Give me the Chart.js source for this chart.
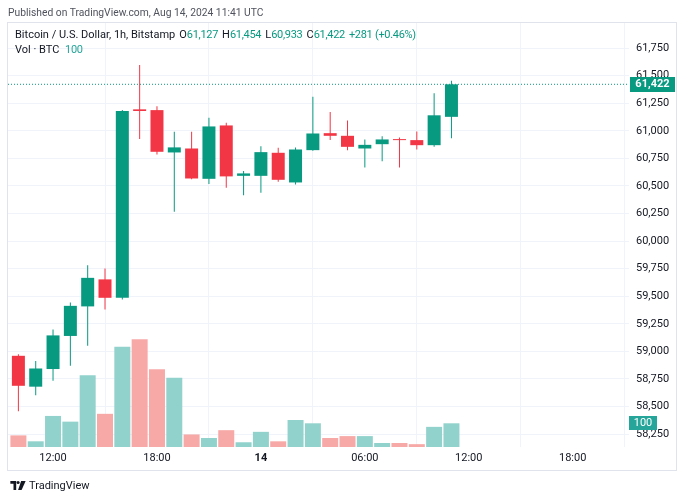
<!DOCTYPE html>
<html><head><meta charset="utf-8">
<script src="https://cdn.jsdelivr.net/npm/chart.js@4.4.1/dist/chart.umd.min.js"></script>
<style>
html,body{margin:0;padding:0;background:#fff;width:683px;height:500px;overflow:hidden;font-family:Roboto,'Liberation Sans',sans-serif;}
#wrap{position:relative;width:683px;height:500px;}
#c{position:absolute;left:0;top:0;}
#pub{position:absolute;left:8px;top:6px;font-size:10.3px;color:#50535e;white-space:nowrap;}
#frame{position:absolute;left:7px;top:22px;width:668px;height:447px;border:1px solid #e0e3eb;pointer-events:none;}
.leg{position:absolute;left:15px;font-size:11px;color:#131722;white-space:nowrap;}
#leg1{top:28px;}
#leg2{top:43px;}
.g{color:#089981;letter-spacing:-0.3px;}
.k{margin-left:4px;}
#logo{position:absolute;left:10px;top:479px;font-size:11px;color:#131722;white-space:nowrap;display:flex;align-items:center;}
#logo svg{margin-right:3px;}
</style>
</head><body>
<div id="wrap">
<canvas id="c" width="683" height="500"></canvas>
<div id="pub">Published on TradingView.com, Aug 14, 2024 11:41 UTC</div>
<div id="frame"></div>
<div class="leg" id="leg1"></div>
<div class="leg" id="leg2"></div>
<div id="logo"><svg width="16" height="9" viewBox="0 0 17 10"><path d="M0 0H6.5V10H3.5V3H0Z" fill="#131722"/><circle cx="8.6" cy="1.7" r="1.7" fill="#131722"/><path d="M12 0H17L12.5 10H8.6Z" fill="#131722"/></svg><span>TradingView</span></div>
</div>
<script>
const times   = ['10:00','11:00','12:00','13:00','14:00','15:00','16:00','17:00','18:00','19:00','20:00','21:00','22:00','23:00','00:00','01:00','02:00','03:00','04:00','05:00','06:00','07:00','08:00','09:00','10:00','11:00'];
const opens   = [58960,58680,58840,59140,59408,59653,59486,61195,61188,60804,60840,60565,61049,60592,60592,60801,60532,60825,60979,60955,60840,60879,60925,60916,60870,61127];
const highs   = [58973,58914,59199,59444,59782,59752,61188,61596,61224,60991,60991,61118,61073,60635,60861,60846,60850,61309,61170,61094,60922,60952,60940,60995,61342,61454];
const lows    = [58458,58603,58733,58869,59051,59380,59471,60925,60786,60266,60560,60517,60483,60417,60438,60538,60514,60820,60916,60825,60668,60725,60668,60831,60855,60933];
const closes  = [58688,58845,59145,59413,59667,59486,61179,61180,60810,60850,60568,61040,60587,60614,60807,60556,60831,60976,60955,60855,60873,60922,60916,60870,61141,61422];
const volumes = [49,24,131,107,303,140,423,455,328,292,53,38,71,20,64,24,114,100,38,46,46,17,17,12,85,100];
const xTickHours  = [2,8,14,20,26,32];
const xTickLabels = ['12:00','18:00','14','06:00','12:00','18:00'];
const yTicks = [58250,58500,58750,59000,59250,59500,59750,60000,60250,60500,60750,61000,61250,61500,61750];

const UP='#089981', DOWN='#f23645', UPV='#92d2cc', DOWNV='#f7a9a7';
const fmt = v => Math.round(v).toLocaleString('en-US');
const last = closes.length-1;
const isUp = closes.map((c,i)=>c>=opens[i]);
const idx = closes.map((c,i)=>i);

// legend
const chg = closes[last]-closes[last-1];
const pct = chg/closes[last-1]*100;
document.getElementById('leg1').innerHTML =
  'Bitcoin / U.S. Dollar, 1h, Bitstamp' +
  '<span class="k">O</span><span class="g">'+fmt(opens[last])+'</span>' +
  '<span class="k">H</span><span class="g">'+fmt(highs[last])+'</span>' +
  '<span class="k">L</span><span class="g">'+fmt(lows[last])+'</span>' +
  '<span class="k">C</span><span class="g">'+fmt(closes[last])+'</span>' +
  '<span class="k g">'+(chg>=0?'+':'')+fmt(chg)+' ('+(chg>=0?'+':'')+pct.toFixed(2)+'%)</span>';
document.getElementById('leg2').innerHTML = 'Vol · BTC <span class="g" style="color:#26a69a;margin-left:3px">'+volumes[last]+'</span>';

const xMin=-0.6, xMax=35.25, yMin=58133, yMax=61978;

const labelsPlugin = {
  id:'lastLabels',
  afterDraw(chart){
    const ctx=chart.ctx, ca=chart.chartArea;
    const py=chart.scales.y.getPixelForValue(closes[last]);
    ctx.save();
    ctx.fillStyle=UP;
    ctx.fillRect(ca.right+1, Math.round(py)-7, 45, 15);
    ctx.fillStyle='#fff';
    ctx.font='bold 11px Roboto, sans-serif';
    ctx.textAlign='center'; ctx.textBaseline='middle';
    ctx.fillText(fmt(closes[last]), ca.right+23.5, Math.round(py)+0.5);
    const vy=chart.scales.yv.getPixelForValue(volumes[last]);
    ctx.fillStyle='#26a69a';
    ctx.fillRect(ca.right, Math.round(vy)-7, 28, 14);
    ctx.fillStyle='#fff';
    ctx.font='11px Roboto, sans-serif';
    ctx.fillText(String(volumes[last]), ca.right+14, Math.round(vy));
    ctx.restore();
  }
};

new Chart(document.getElementById('c'), {
  data:{
    datasets:[
      {type:'bar', label:'body', data: idx.map(i=>({x:i,y:[opens[i],closes[i]]})),
       backgroundColor: idx.map(i=>isUp[i]?UP:DOWN), barThickness:13, grouped:false,
       minBarLength:1, inflateAmount:0, borderWidth:0, yAxisID:'y', order:1},
      {type:'bar', label:'wick', data: idx.map(i=>({x:i,y:[lows[i],highs[i]]})),
       backgroundColor: idx.map(i=>isUp[i]?UP:DOWN), barThickness:1, grouped:false,
       inflateAmount:0, borderWidth:0, yAxisID:'y', order:2},
      {type:'line', label:'last', data:[{x:xMin,y:closes[last]},{x:xMax,y:closes[last]}],
       borderColor:UP, borderWidth:1, borderDash:[1,2], pointRadius:0, yAxisID:'y', order:3},
      {type:'bar', label:'vol', data: idx.map(i=>({x:i,y:volumes[i]})),
       backgroundColor: idx.map(i=>isUp[i]?UPV:DOWNV), barThickness:16, grouped:false,
       inflateAmount:0, borderWidth:0, yAxisID:'yv', order:4}
    ]
  },
  options:{
    responsive:false, animation:false,
    layout:{padding:{left:8, top:23, right:7, bottom:30}},
    plugins:{legend:{display:false}, tooltip:{enabled:false}},
    scales:{
      x:{type:'linear', min:xMin, max:xMax, offset:false,
         afterBuildTicks:s=>{ s.ticks = xTickHours.map(v=>({value:v})); },
         afterFit:s=>{ s.height=23; },
         grid:{color:'#f0f3fa', drawTicks:false},
         border:{display:false},
         ticks:{autoSkip:false, maxRotation:0, padding:5, color:'#131722',
                font:c=>({family:'Roboto', size:11, weight:(c.tick && c.tick.value===14)?'bold':'normal'}),
                callback:v=>xTickLabels[xTickHours.indexOf(v)]}
      },
      y:{type:'linear', position:'right', min:yMin, max:yMax,
         afterBuildTicks:s=>{ s.ticks = yTicks.map(v=>({value:v})); },
         afterFit:s=>{ s.width=47; },
         grid:{color:'#f0f3fa', drawTicks:false},
         border:{display:false},
         ticks:{padding:7, color:'#131722', font:{family:'Roboto', size:11}, callback:v=>fmt(v)}
      },
      yv:{type:'linear', display:false, min:0, max:1789}
    }
  },
  plugins:[labelsPlugin]
});
</script>
</body></html>
